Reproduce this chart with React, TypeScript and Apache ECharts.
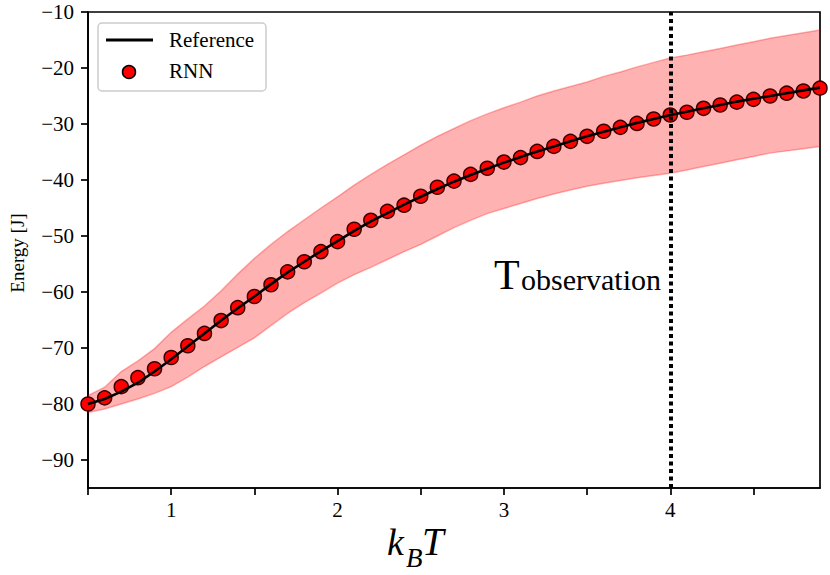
import React, { useEffect, useRef } from "react";
import * as echarts from "echarts";

const temps = [
  0.5, 0.6, 0.7, 0.8, 0.9, 1.0, 1.1, 1.2, 1.3, 1.4, 1.5, 1.6, 1.7, 1.8, 1.9,
  2.0, 2.1, 2.2, 2.3, 2.4, 2.5, 2.6, 2.7, 2.8, 2.9, 3.0, 3.1, 3.2, 3.3, 3.4,
  3.5, 3.6, 3.7, 3.8, 3.9, 4.0, 4.1, 4.2, 4.3, 4.4, 4.5, 4.6, 4.7, 4.8, 4.9,
];

const referenceEnergy = [
  -80.0, -79.1, -77.8, -76.2, -74.2, -72.0, -69.7, -67.4, -65.1, -62.9, -60.8,
  -58.6, -56.5, -54.6, -52.7, -50.9, -49.1, -47.4, -45.9, -44.4, -43.0, -41.6,
  -40.3, -39.1, -38.0, -36.9, -35.9, -34.9, -34.0, -33.1, -32.2, -31.4, -30.6,
  -29.8, -29.1, -28.4, -27.8, -27.2, -26.6, -26.0, -25.5, -25.0, -24.5, -24.0,
  -23.5,
];

const rnnEnergy = [
  -80.0, -78.9, -76.9, -75.3, -73.7, -71.7, -69.6, -67.4, -65.1, -62.8, -60.8,
  -58.7, -56.4, -54.6, -52.8, -51.0, -48.8, -47.2, -45.6, -44.5, -42.9, -41.3,
  -40.2, -39.0, -37.9, -36.8, -36.0, -34.9, -34.0, -33.1, -32.2, -31.3, -30.6,
  -29.9, -29.1, -28.4, -27.9, -27.2, -26.6, -26.1, -25.6, -25.0, -24.5, -24.1,
  -23.6,
];

const bandUpper = [
  -78.5, -77.0, -74.2, -72.3, -70.1, -67.2, -64.8, -62.5, -59.8, -56.8, -54.0,
  -51.5, -49.2, -47.1, -45.0, -43.0, -40.9, -39.0, -37.2, -35.5, -33.8, -32.2,
  -30.8, -29.4, -28.2, -27.1, -26.1, -25.0, -24.1, -23.3, -22.5, -21.5, -20.7,
  -19.8, -19.0, -18.2, -17.7, -17.1, -16.5, -15.9, -15.3, -14.7, -14.2, -13.7,
  -13.2,
];

const bandLower = [
  -81.5, -80.9, -80.0, -79.1, -78.1, -76.9, -75.2, -73.3, -71.6, -69.9, -68.2,
  -66.0, -63.8, -61.9, -60.2, -58.4, -56.9, -55.6, -54.2, -52.8, -51.5, -50.0,
  -48.5, -47.2, -46.0, -45.1, -44.2, -43.3, -42.5, -41.8, -41.1, -40.6, -40.1,
  -39.6, -39.2, -38.8, -38.2, -37.6, -37.0, -36.4, -35.8, -35.2, -34.8, -34.4,
  -34.0,
];

const xTickValues = [0.5, 1, 1.5, 2, 2.5, 3, 3.5, 4, 4.5];
const xLabelValues = [1, 2, 3, 4];
const yTickValues = [-90, -80, -70, -60, -50, -40, -30, -20, -10];
const observationT = 4;

export default function App() {
  const ref = useRef<HTMLDivElement>(null);

  useEffect(() => {
    document.body.style.margin = "0";
    const chart = echarts.init(ref.current!, null, { renderer: "svg" });
    const serif = "'Liberation Serif', 'Times New Roman', Times, serif";
    const pair = (ys: number[]) => temps.map((t, i) => [t, ys[i]]);
    const minus = (v: number) => String(v).replace("-", "\u2212");
    const bandEdge = "rgba(255,0,0,0.3)";

    chart.setOption({
      animation: false,
      grid: {
        left: 88,
        right: 10,
        top: 12,
        bottom: 87,
        show: true,
        borderColor: "#000",
        borderWidth: 1.7,
        backgroundColor: "transparent",
      },
      xAxis: {
        type: "value",
        min: 0.5,
        max: 4.9,
        axisLine: { show: true, lineStyle: { color: "#000", width: 1.7 } },
        axisTick: {
          show: true,
          length: 7,
          lineStyle: { color: "#000", width: 1.7 },
          customValues: xTickValues,
        },
        axisLabel: {
          customValues: xLabelValues,
          fontFamily: serif,
          fontSize: 21,
          color: "#000",
          margin: 11,
          formatter: (v: number) => minus(v),
        },
        splitLine: { show: false },
      },
      yAxis: {
        type: "value",
        min: -95,
        max: -10,
        axisLine: { show: true, lineStyle: { color: "#000", width: 1.7 } },
        axisTick: {
          show: true,
          length: 7,
          lineStyle: { color: "#000", width: 1.7 },
          customValues: yTickValues,
        },
        axisLabel: {
          customValues: yTickValues,
          fontFamily: serif,
          fontSize: 21,
          color: "#000",
          margin: 14,
          formatter: (v: number) => minus(v),
        },
        splitLine: { show: false },
      },
      series: [
        {
          name: "band",
          type: "custom",
          silent: true,
          clip: true,
          z: 1,
          data: temps.map((t, i) => [t, bandLower[i], bandUpper[i]]),
          encode: { x: 0, y: [1, 2] },
          renderItem: (params: any, api: any) => {
            if (params.dataIndex !== 0) return null;
            const up = temps.map((t, i) => api.coord([t, bandUpper[i]]));
            const lo = temps.map((t, i) => api.coord([t, bandLower[i]]));
            return {
              type: "group",
              children: [
                {
                  type: "polygon",
                  shape: { points: up.concat(lo.slice().reverse()) },
                  style: { fill: "rgba(255,0,0,0.3)", stroke: null },
                },
                {
                  type: "polyline",
                  shape: { points: up },
                  style: { stroke: bandEdge, lineWidth: 1.5, fill: null },
                },
                {
                  type: "polyline",
                  shape: { points: lo },
                  style: { stroke: bandEdge, lineWidth: 1.5, fill: null },
                },
              ],
            };
          },
        },
        {
          name: "RNN",
          type: "scatter",
          data: pair(rnnEnergy),
          symbol: "circle",
          symbolSize: 14,
          itemStyle: {
            color: "#ff0000",
            borderColor: "#3a0000",
            borderWidth: 1.5,
            opacity: 1,
          },
          z: 3,
        },
        {
          name: "Reference",
          type: "line",
          data: pair(referenceEnergy),
          symbol: "none",
          lineStyle: { color: "#000", width: 2.6 },
          z: 4,
          markLine: {
            silent: true,
            symbol: ["none", "none"],
            label: { show: false },
            lineStyle: { color: "#000", width: 4, type: [4, 3.5] },
            data: [{ xAxis: observationT }],
          },
        },
      ],
      graphic: [
        {
          type: "rect",
          z: 100,
          shape: { x: 98, y: 23, width: 168, height: 68, r: 4 },
          style: { fill: "rgba(255,255,255,0.8)", stroke: "#cccccc", lineWidth: 1.5 },
        },
        {
          type: "line",
          z: 101,
          shape: { x1: 106, y1: 40, x2: 153, y2: 40 },
          style: { stroke: "#000", lineWidth: 2.8 },
        },
        {
          type: "circle",
          z: 101,
          shape: { cx: 129, cy: 72, r: 6.5 },
          style: { fill: "#ff0000", stroke: "#000", lineWidth: 1.5 },
        },
        {
          type: "text",
          z: 101,
          x: 169,
          y: 40,
          style: {
            text: "Reference",
            fontFamily: serif,
            fontSize: 21,
            fill: "#000",
            align: "left",
            verticalAlign: "middle",
          },
        },
        {
          type: "text",
          z: 101,
          x: 169,
          y: 71,
          style: {
            text: "RNN",
            fontFamily: serif,
            fontSize: 21,
            fill: "#000",
            align: "left",
            verticalAlign: "middle",
          },
        },
        {
          type: "text",
          z: 50,
          x: 494,
          y: 275,
          style: {
            text: "T",
            fontFamily: serif,
            fontSize: 42,
            fill: "#000",
            align: "left",
            verticalAlign: "middle",
          },
        },
        {
          type: "text",
          z: 50,
          x: 521,
          y: 279.5,
          style: {
            text: "observation",
            fontFamily: serif,
            fontSize: 30,
            fill: "#000",
            align: "left",
            verticalAlign: "middle",
          },
        },
        {
          type: "text",
          x: 387,
          y: 541.7,
          style: {
            text: "k",
            fontFamily: serif,
            fontStyle: "italic",
            fontSize: 38,
            fill: "#000",
            align: "left",
            verticalAlign: "middle",
          },
        },
        {
          type: "text",
          x: 406,
          y: 557.5,
          style: {
            text: "B",
            fontFamily: serif,
            fontStyle: "italic",
            fontSize: 27,
            fill: "#000",
            align: "left",
            verticalAlign: "middle",
          },
        },
        {
          type: "text",
          x: 422,
          y: 541.7,
          style: {
            text: "T",
            fontFamily: serif,
            fontStyle: "italic",
            fontSize: 39,
            fill: "#000",
            align: "left",
            verticalAlign: "middle",
          },
        },
        {
          type: "text",
          x: 17,
          y: 253,
          rotation: Math.PI / 2,
          style: {
            text: "Energy [J]",
            fontFamily: serif,
            fontSize: 19,
            fill: "#000",
            align: "center",
            verticalAlign: "middle",
          },
        },
      ],
    });

    return () => chart.dispose();
  }, []);

  return <div ref={ref} style={{ width: 830, height: 575 }} />;
}
